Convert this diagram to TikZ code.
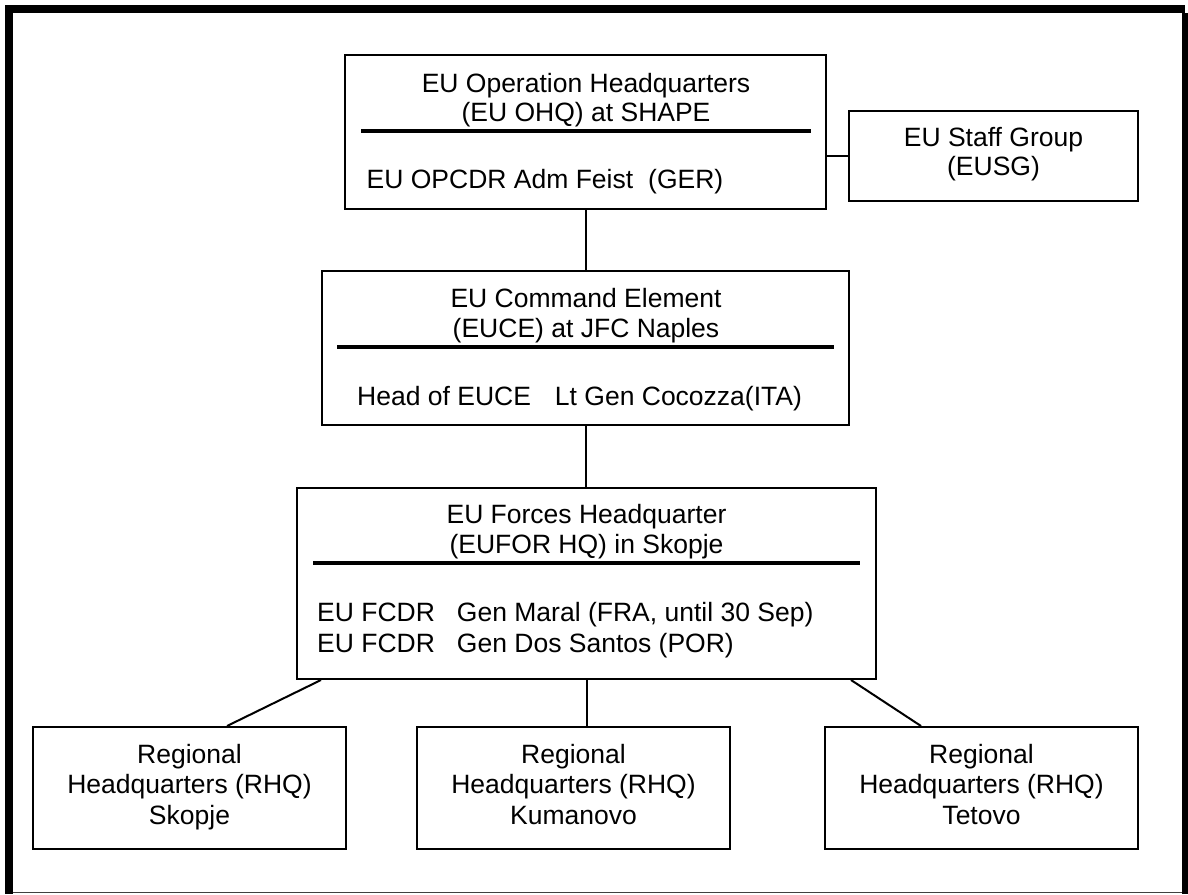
\documentclass[tikz,border=0pt]{standalone}
\usepackage{fontspec}
\setmainfont{Liberation Sans}
\usetikzlibrary{calc}
\tikzset{
  box/.style={draw=black, line width=2pt, fill=white, rectangle, inner sep=0pt},
  lbl/.style={inner sep=0pt, font=\fontsize{26.5}{30.5}\selectfont},
  sepline/.style={line width=4pt},
  link/.style={line width=2pt},
}
\begin{document}
\begin{tikzpicture}[x=1pt,y=-1pt]
\useasboundingbox (0,0) rectangle (1188,894);
% frame
\fill[black] (5,5) rectangle (1185,13);
\fill[black] (5,5) rectangle (13,894);
\fill[black] (1182,13) rectangle (1188,894);
\draw[black!75, line width=1.5pt] (13,892.5) -- (1182,892.5);

% boxes
\node[box, minimum width=481pt, minimum height=154pt] (ohq) at (585.5,132) {};
\node[box, minimum width=289pt, minimum height=90pt] (staff) at (993.5,156) {};
\node[box, minimum width=527pt, minimum height=154pt] (euce) at (585.5,348) {};
\node[box, minimum width=579pt, minimum height=191pt] (eufor) at (586.5,583.5) {};
\node[box, minimum width=313pt, minimum height=122pt] (rskopje) at (189.5,788) {};
\node[box, minimum width=313pt, minimum height=122pt] (rkum) at (573.5,788) {};
\node[box, minimum width=313pt, minimum height=122pt] (rtet) at (981.5,788) {};

% separators
\draw[sepline] ($(ohq.north west)+(17,77)$) -- ($(ohq.north east)+(-16,77)$);
\draw[sepline] ($(euce.north west)+(16,77)$) -- ($(euce.north east)+(-16,77)$);
\draw[sepline] ($(eufor.north west)+(17,76)$) -- ($(eufor.north east)+(-17,76)$);

% texts
\node[lbl, anchor=base] (ohq1) at (586,92) {EU Operation Headquarters};
\node[lbl, anchor=base] (ohq2) at (586,121) {(EU OHQ) at SHAPE};
\node[lbl, anchor=base west] (ohq3) at (366.5,188) {EU OPCDR Adm Feist\hspace{15pt}(GER)};

\node[lbl, anchor=base] (st1) at (993.5,146) {EU Staff Group};
\node[lbl, anchor=base] (st2) at (993.5,175) {(EUSG)};

\node[lbl, anchor=base] (ce1) at (586,307) {EU Command Element};
\node[lbl, anchor=base] (ce2) at (586,337) {(EUCE) at JFC Naples};
\node[lbl, anchor=base west] (ce3) at (357,405) {Head of EUCE\hspace{24pt}Lt Gen Cocozza(ITA)};

\node[lbl, anchor=base] (fo1) at (586.5,523) {EU Forces Headquarter};
\node[lbl, anchor=base] (fo2) at (586.5,553) {(EUFOR HQ) in Skopje};
\node[lbl, anchor=base west] (fo3) at (317,621) {EU FCDR\hspace{22pt}Gen Maral (FRA, until 30 Sep)};
\node[lbl, anchor=base west] (fo4) at (317,652) {EU FCDR\hspace{22pt}Gen Dos Santos (POR)};

\node[lbl, anchor=base] (rs1) at (189.5,763) {Regional};
\node[lbl, anchor=base] (rs2) at (189.5,793.5) {Headquarters (RHQ)};
\node[lbl, anchor=base] (rs3) at (189.5,824) {Skopje};

\node[lbl, anchor=base] (rk1) at (573.5,763) {Regional};
\node[lbl, anchor=base] (rk2) at (573.5,793.5) {Headquarters (RHQ)};
\node[lbl, anchor=base] (rk3) at (573.5,824) {Kumanovo};

\node[lbl, anchor=base] (rt1) at (981.5,763) {Regional};
\node[lbl, anchor=base] (rt2) at (981.5,793.5) {Headquarters (RHQ)};
\node[lbl, anchor=base] (rt3) at (981.5,824) {Tetovo};

% connectors
\draw[link] (ohq.south) -- (ohq.south |- euce.north);
\draw[link] (euce.south) -- (euce.south |- eufor.north);
\draw[link] (staff.west) -- (staff.west -| ohq.east);
\draw[link] (eufor.south) -- (eufor.south |- rkum.north);
\draw[link] ($(eufor.south west)+(25,0)$) -- ($(rskopje.north)+(37.5,0)$);
\draw[link] ($(eufor.south east)+(-26,0)$) -- ($(rtet.north)+(-60.5,0)$);
\end{tikzpicture}
\end{document}
